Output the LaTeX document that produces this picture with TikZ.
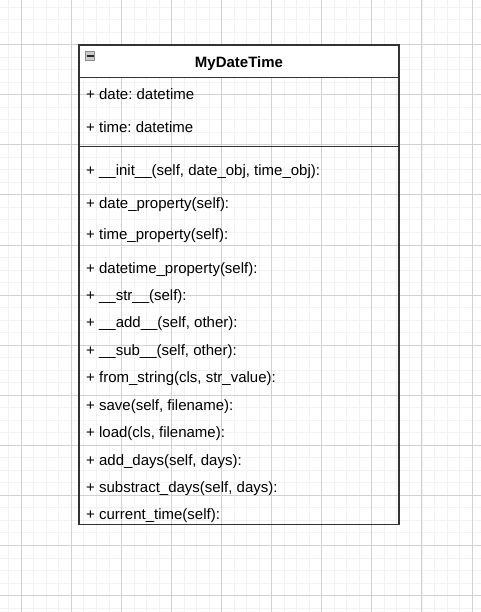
\documentclass[tikz,border=0pt]{standalone}
\usepackage{fontspec}
\setmainfont{Liberation Sans}
\frenchspacing
\usetikzlibrary{positioning}

\begin{document}
\begin{tikzpicture}[
  x=1pt, y=-1pt,
  minorline/.style={draw=black!5, line width=0.9pt},
  majorline/.style={draw=black!18, line width=0.9pt},
  classline/.style={draw=black!80, line width=1.3pt},
  classhead/.style={rectangle, classline, fill=white, minimum width=320pt, minimum height=32.7pt, inner sep=0pt},
  classbody/.style={rectangle, classline, minimum width=320pt, minimum height=446.6pt, inner sep=0pt},
  foldbox/.style={rectangle, draw=black!45, fill=black!20, line width=0.8pt, minimum size=9.4pt, inner sep=0pt},
  member/.style={anchor=base west, inner sep=0pt, font=\fontsize{15}{18}\selectfont}
]
\useasboundingbox (0,0) rectangle (481,612);
% background grid
\foreach \i in {0,...,37} {\draw[minorline] ({8.8+12.52*\i},0) -- ({8.8+12.52*\i},612);}
\foreach \i in {0,...,48} {\draw[minorline] (0,{7.1+12.52*\i}) -- (481,{7.1+12.52*\i});}
\foreach \i in {0,...,9} {\draw[majorline] ({21.3+50.08*\i},0) -- ({21.3+50.08*\i},612);}
\foreach \i in {0,...,11} {\draw[majorline] (0,{44.7+50.08*\i}) -- (481,{44.7+50.08*\i});}

% class box
\node[classbody] (body) at (239,301) {};
\node[classhead] (head) at (239,61.35) {};
\node[anchor=base, inner sep=0pt, font=\fontsize{15}{18}\selectfont\bfseries] (title) at (239,67.7) {MyDateTime};
\node[foldbox] (fold) at (90,56) {};
\draw[black!85, line width=1.6pt] ([xshift=1.6pt]fold.west) -- ([xshift=-1.6pt]fold.east);
\coordinate (sep) at (239,146.7);
\draw[classline] (body.west |- sep) -- (body.east |- sep);

% attributes
\node[member] (aDate) at (86,100) {+ date: datetime};
\node[member] (aTime) at (86,132.8) {+ time: datetime};

% methods
\node[member] (mInit) at (86,175.5) {+ \_\_init\_\_(self, date\_obj, time\_obj):};
\node[member] (mDateProp) at (86,208.5) {+ date\_property(self):};
\node[member] (mTimeProp) at (86,239.5) {+ time\_property(self):};
\node[member] (mDtProp) at (86,273.3) {+ datetime\_property(self):};
\node[member] (mStr) at (86,300.2) {+ \_\_str\_\_(self):};
\node[member] (mAdd) at (86,327.7) {+ \_\_add\_\_(self, other):};
\node[member] (mSub) at (86,355.2) {+ \_\_sub\_\_(self, other):};
\node[member] (mFromStr) at (86,382.7) {+ from\_string(cls, str\_value):};
\node[member] (mSave) at (86,410.2) {+ save(self, filename):};
\node[member] (mLoad) at (86,437.7) {+ load(cls, filename):};
\node[member] (mAddDays) at (86,465.1) {+ add\_days(self, days):};
\node[member] (mSubDays) at (86,492.6) {+ substract\_days(self, days):};
\node[member] (mNow) at (86,519.5) {+ current\_time(self):};
\end{tikzpicture}
\end{document}
